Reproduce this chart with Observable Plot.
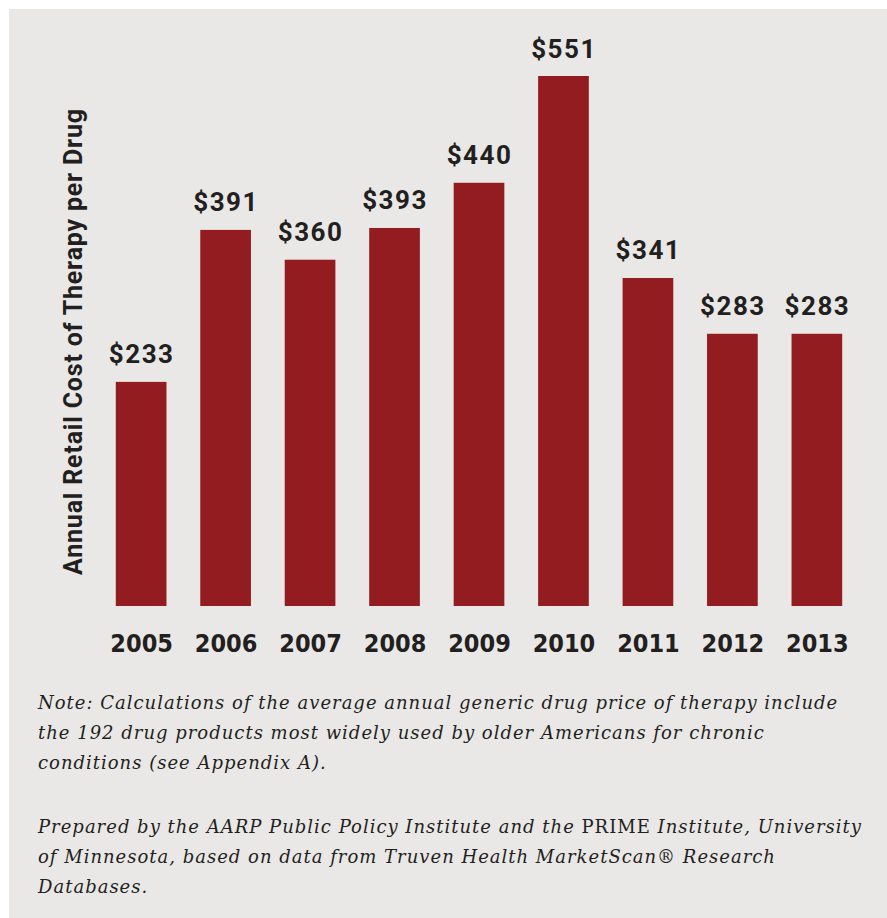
<!DOCTYPE html>
<html>
<head>
<meta charset="utf-8">
<script src="https://cdn.jsdelivr.net/npm/d3@7"></script>
<script src="https://cdn.jsdelivr.net/npm/@observablehq/plot@0.6"></script>
<style>
  html, body { margin: 0; padding: 0; background: #ffffff; }
  #panel { position: absolute; left: 9px; top: 9px; width: 878px; height: 909px; background: #e9e8e6; overflow: hidden; }
  #chart { position: absolute; left: 0; top: 0; }
  #chart g[aria-description="value-labels"] text { letter-spacing: 1.5px; }
  #chart g[aria-description="y-title"] text { letter-spacing: 0.8px; }
  .note { position: absolute; left: 29px; font-family: "DejaVu Serif", serif; font-style: italic; font-size: 18px; letter-spacing: 1px; line-height: 30px; color: #231f20; white-space: nowrap; }
  .note .up { font-style: normal; }
</style>
</head>
<body>
<div id="panel">
  <div id="chart"></div>
  <div class="note" id="note1" style="top: 679px;">Note: Calculations of the average annual generic drug price of therapy include<br>the 192 drug products most widely used by older Americans for chronic<br>conditions (see Appendix A).</div>
  <div class="note" id="note2" style="top: 803px;">Prepared by the AARP Public Policy Institute and the <span class="up">PRIME</span> Institute, University<br>of Minnesota, based on data from Truven Health MarketScan® Research<br>Databases.</div>
</div>
<script>
const years = ["2005", "2006", "2007", "2008", "2009", "2010", "2011", "2012", "2013"];
const costs = [233, 391, 360, 393, 440, 551, 341, 283, 283];
const yTitle = "Annual Retail Cost of Therapy per Drug";

const data = years.map((y, i) => ({year: y, cost: costs[i]}));

const chart = Plot.plot({
  width: 878,
  height: 670,
  marginLeft: 73,
  marginRight: 11,
  marginTop: 67,
  marginBottom: 73,
  style: {background: "transparent", color: "#231f20"},
  x: {domain: years, padding: 0.4, round: false, label: null},
  y: {domain: [0, 551], label: null, axis: null},
  marks: [
    Plot.barY(data, {x: "year", y: "cost", fill: "#931c20"}),
    Plot.text(data, {x: "year", y: "cost", text: d => "$" + d.cost, dy: -19, lineAnchor: "bottom",
      fontFamily: "Roboto", fontWeight: 700, fontSize: 26, fill: "#231f20", ariaDescription: "value-labels"}),
    Plot.axisX({tickSize: 0, tickPadding: 28, fontFamily: "DejaVu Sans Condensed", fontWeight: 700, fontSize: 25, fill: "#231f20", label: null}),
    Plot.text([yTitle], {frameAnchor: "left", rotate: -90, dx: -9, text: d => d,
      fontFamily: "Roboto", fontWeight: 700, fontSize: 25, fill: "#231f20", textAnchor: "middle", lineAnchor: "middle",
      ariaDescription: "y-title"})
  ]
});
document.getElementById("chart").appendChild(chart);
</script>
</body>
</html>
